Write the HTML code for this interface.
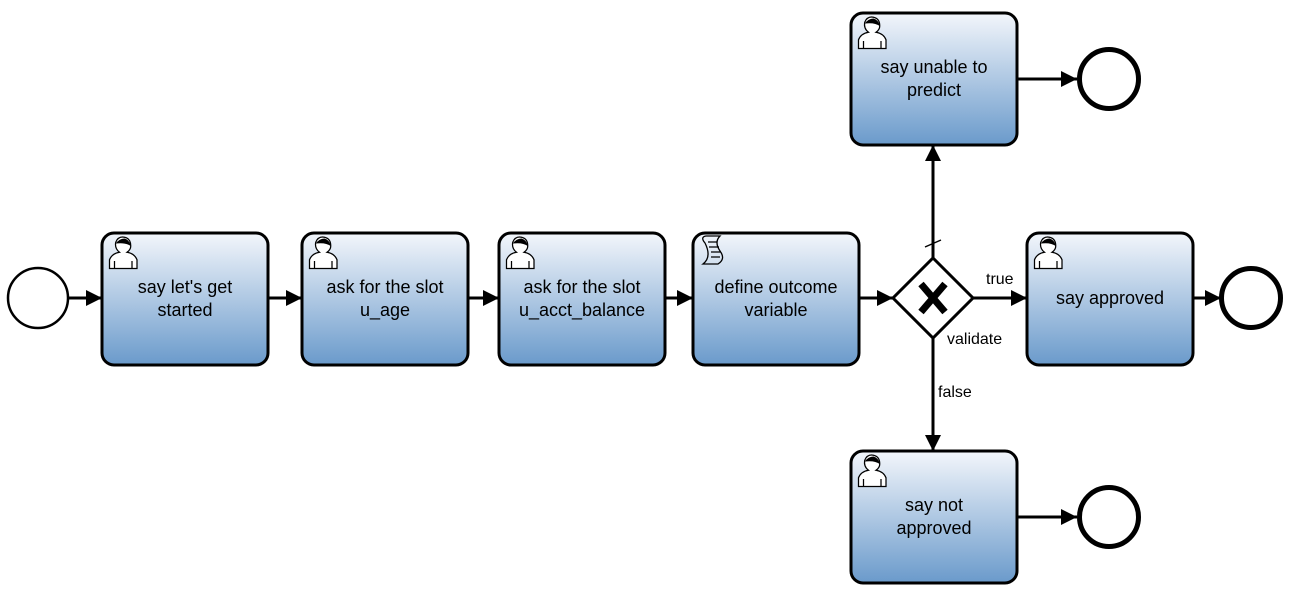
<!DOCTYPE html>
<html><head><meta charset="utf-8"><style>
html,body{margin:0;padding:0;background:#fff;}
svg text{font-family:"Liberation Sans",sans-serif;}
</style></head><body>
<svg width="1297" height="596" viewBox="0 0 1297 596" xmlns="http://www.w3.org/2000/svg">
<defs>
<linearGradient id="g" x1="0" y1="0" x2="0" y2="1">
<stop offset="0" stop-color="#f3f6fb"/><stop offset="1" stop-color="#6a9acb"/>
</linearGradient>
<marker id="a2" markerWidth="16" markerHeight="16" refX="16" refY="8" orient="auto" markerUnits="userSpaceOnUse" viewBox="0 0 16 16">
<path d="M0,0 L16,8 L0,16 z" fill="#000"/></marker>
<g id="user" transform="scale(1.25)">
<path d="M2,26 L2,19 Q4,14 10,13 Q6,10 7,5 Q9,0 14,1 Q19,2 19,8 Q19,11 16,13 Q22,14 24,19 L24,26 Z" fill="#fff" stroke="#000" stroke-width="1"/>
<path d="M7,6 Q10,2 14,2 Q18,3 19,8 Q15,5 7,6Z" fill="#000"/>
<path d="M6,26 L6,20 M20,26 L20,20" stroke="#000" stroke-width="1"/>
</g>
</defs>
<g stroke="#000" stroke-width="3" fill="none">
<line x1="68" y1="298" x2="102" y2="298" marker-end="url(#a2)"/>
<line x1="268" y1="298" x2="302" y2="298" marker-end="url(#a2)"/>
<line x1="468" y1="298" x2="499" y2="298" marker-end="url(#a2)"/>
<line x1="665" y1="298" x2="693" y2="298" marker-end="url(#a2)"/>
<line x1="859" y1="298" x2="893" y2="298" marker-end="url(#a2)"/>
<line x1="973" y1="298" x2="1027" y2="298" marker-end="url(#a2)"/>
<line x1="1193" y1="298" x2="1221" y2="298" marker-end="url(#a2)"/>
<line x1="933" y1="258" x2="933" y2="145" marker-end="url(#a2)"/>
<line x1="933" y1="338" x2="933" y2="451" marker-end="url(#a2)"/>
<line x1="1017" y1="79" x2="1077" y2="79" marker-end="url(#a2)"/>
<line x1="1017" y1="517" x2="1077" y2="517" marker-end="url(#a2)"/>
<line x1="925" y1="247" x2="941" y2="240" stroke-width="1.5"/>
</g>
<circle cx="38" cy="298" r="30" fill="#fff" stroke="#000" stroke-width="2.5"/>
<circle cx="1251" cy="298" r="29.5" fill="#fff" stroke="#000" stroke-width="5"/>
<circle cx="1109" cy="79" r="29.5" fill="#fff" stroke="#000" stroke-width="5"/>
<circle cx="1109" cy="517" r="29.5" fill="#fff" stroke="#000" stroke-width="5"/>
<g stroke="#000" stroke-width="3" fill="url(#g)">
<rect x="102" y="233" width="166" height="132" rx="12"/>
<rect x="302" y="233" width="166" height="132" rx="12"/>
<rect x="499" y="233" width="166" height="132" rx="12"/>
<rect x="693" y="233" width="166" height="132" rx="12"/>
<rect x="1027" y="233" width="166" height="132" rx="12"/>
<rect x="851" y="13" width="166" height="132" rx="12"/>
<rect x="851" y="451" width="166" height="132" rx="12"/>
</g>
<path d="M933,258 L973,298 L933,338 L893,298 Z" fill="#fff" stroke="#000" stroke-width="3"/>
<text x="933" y="313" text-anchor="middle" font-size="42" font-weight="bold" transform="translate(-93.3,-29.8) scale(1.1,1.1)" style="display:none">X</text>
<path d="M921,284 L945,312 M945,284 L921,312" stroke="#000" stroke-width="7"/>
<use href="#user" x="107" y="236"/>
<use href="#user" x="307" y="236"/>
<use href="#user" x="504" y="236"/>
<use href="#user" x="1032" y="236"/>
<use href="#user" x="856" y="16"/>
<use href="#user" x="856" y="454"/>
<g fill="none" stroke="#000" stroke-width="1.3">
<path d="M705,243 Q700,237 706,236 L720,236 Q714,242 720,251 Q726,259 718,264 L703,264 Q712,257 705,243Z"/>
<path d="M708,242 H717 M709,247 H719 M711,252 H721 M711,257 H720"/>
</g>
<g font-size="18" text-anchor="middle" fill="#000">
<text x="185" y="293">say let's get</text><text x="185" y="316">started</text>
<text x="385" y="293">ask for the slot</text><text x="385" y="316">u_age</text>
<text x="582" y="293">ask for the slot</text><text x="582" y="316">u_acct_balance</text>
<text x="776" y="293">define outcome</text><text x="776" y="316">variable</text>
<text x="1110" y="304">say approved</text>
<text x="934" y="73">say unable to</text><text x="934" y="96">predict</text>
<text x="934" y="511">say not</text><text x="934" y="534">approved</text>
</g>
<g font-size="16" fill="#000">
<text x="986" y="284">true</text>
<text x="947" y="344">validate</text>
<text x="938" y="397">false</text>
</g>
</svg>
</body></html>
